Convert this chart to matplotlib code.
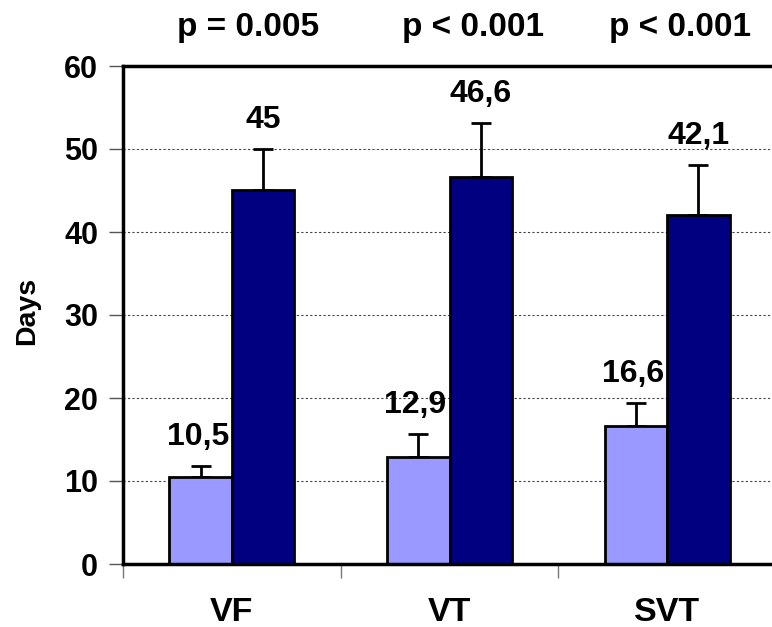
import matplotlib
matplotlib.use("Agg")
import matplotlib.pyplot as plt
import numpy as np

categories = ["VF", "VT", "SVT"]
light_vals = [10.5, 12.9, 16.6]
light_err = [1.3, 2.8, 2.8]
dark_vals = [45.0, 46.6, 42.1]
dark_err = [5.0, 6.5, 6.0]
light_labels = ["10,5", "12,9", "16,6"]
dark_labels = ["45", "46,6", "42,1"]
p_labels = ["p = 0.005", "p < 0.001", "p < 0.001"]
yticks = [0, 10, 20, 30, 40, 50, 60]

plt.rcParams['font.family'] = ['Liberation Sans', 'DejaVu Sans']
plt.rcParams['font.weight'] = 'bold'

fig = plt.figure(figsize=(7.72, 6.27), dpi=100)
ax = fig.add_axes([123/772, 63/627, 653/772, 498/627])

x = np.arange(len(categories)) + 0.5
w = 0.287
light_c = "#9999FF"
dark_c = "#000080"

ax.bar(x - w/2, light_vals, w, color=light_c, edgecolor="black", linewidth=2, zorder=3)
ax.bar(x + w/2, dark_vals, w, color=dark_c, edgecolor="black", linewidth=2, zorder=3)
ax.errorbar(x - w/2, light_vals, yerr=[np.zeros(3), light_err], fmt="none",
            ecolor="black", elinewidth=2, capsize=7, capthick=2, zorder=2)
ax.errorbar(x + w/2, dark_vals, yerr=[np.zeros(3), dark_err], fmt="none",
            ecolor="black", elinewidth=2, capsize=7, capthick=2, zorder=2)

for xi, v, e, lab in zip(x - w/2, light_vals, light_err, light_labels):
    ax.annotate(lab, (xi, v + e), xytext=(-2, 15), textcoords="offset points",
                ha="center", va="baseline", fontsize=23, fontweight="bold")
for xi, v, e, lab in zip(x + w/2, dark_vals, dark_err, dark_labels):
    ax.annotate(lab, (xi, v + e), xytext=(0, 15), textcoords="offset points",
                ha="center", va="baseline", fontsize=23, fontweight="bold")

ax.set_xlim(0, 3)
ax.set_ylim(0, 60)
ax.set_yticks(yticks)
ax.set_yticklabels([str(t) for t in yticks], fontsize=22, fontweight="bold")
ax.set_xticks(x)
ax.set_xticklabels(categories, fontsize=24.5, fontweight="bold")
ax.tick_params(axis="x", length=0, pad=24)
ax.set_xticks([0, 1, 2, 3], minor=True)
ax.tick_params(axis="x", which="minor", length=10, width=1, color="#777777", direction="out")
ax.tick_params(axis="y", length=10, width=1, color="#555555", direction="out", pad=8)

ax.yaxis.grid(True, linestyle=(0, (2, 2)), color="#444444", linewidth=0.8, zorder=0)
ax.set_axisbelow(True)

for s in ["left", "bottom", "top"]:
    ax.spines[s].set_linewidth(2.5)
    ax.spines[s].set_zorder(5)
ax.spines["right"].set_visible(False)

ax.set_ylabel("Days", fontsize=20.5, fontweight="bold")
ax.yaxis.set_label_coords(-0.127, 0.508)

p_x = [248, 473, 680]
for px, lab in zip(p_x, p_labels):
    fig.text(px/772, 1 - 36/627, lab, ha="center", va="baseline", fontsize=24, fontweight="bold")

fig.savefig("out.png", dpi=100)
